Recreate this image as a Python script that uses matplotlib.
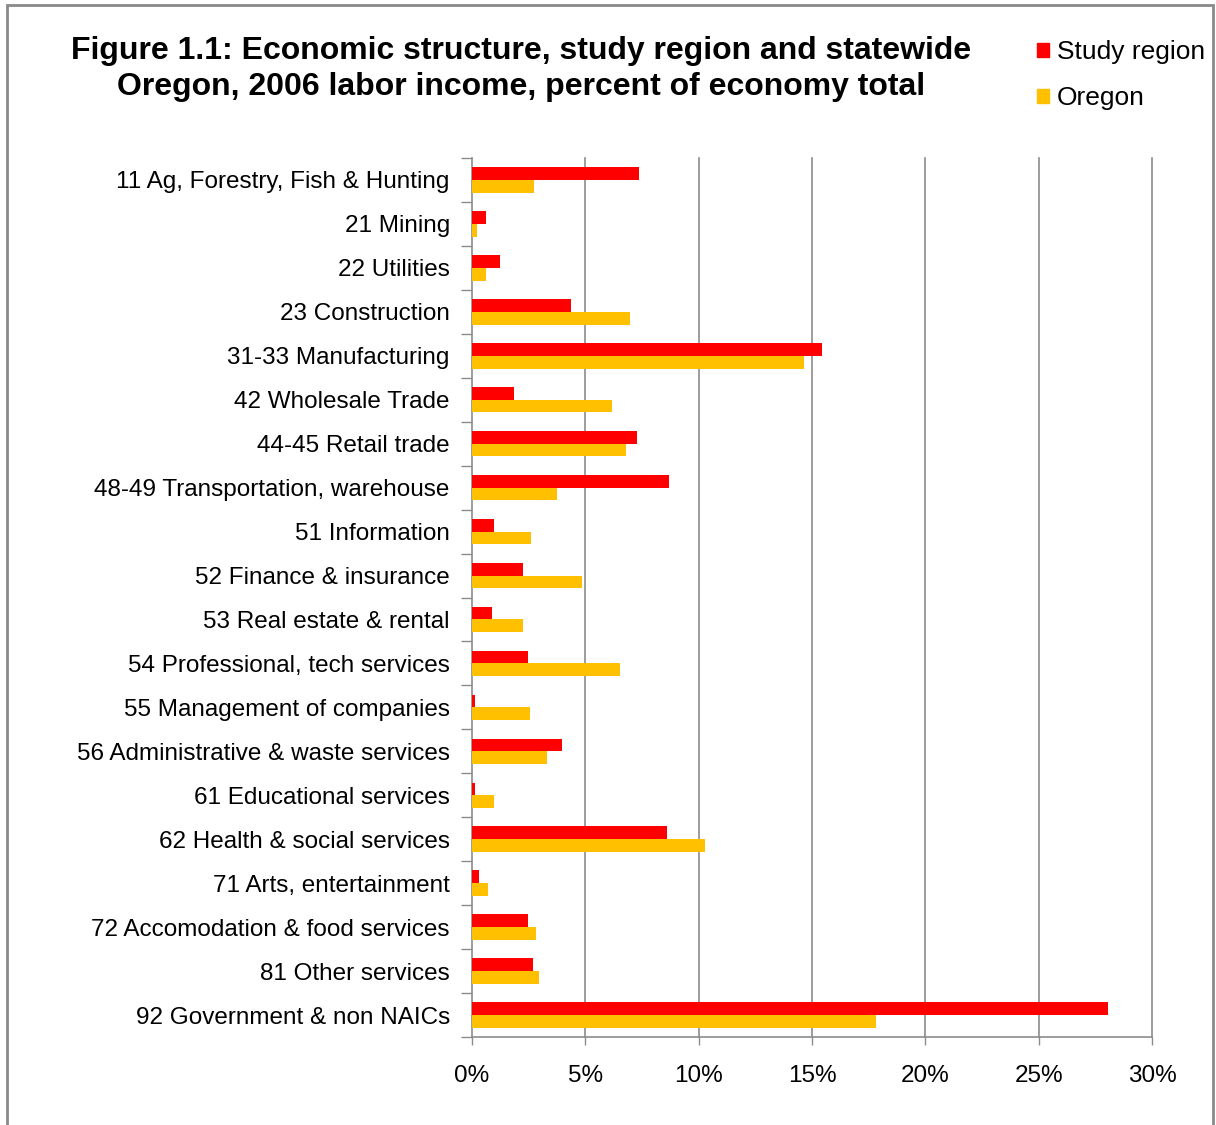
import matplotlib
matplotlib.use('Agg')
import matplotlib.pyplot as plt
import matplotlib.patches as mpatches
from matplotlib.ticker import FuncFormatter, FixedLocator
import numpy as np

plt.rcParams['font.family'] = ['Liberation Sans', 'DejaVu Sans']

# Labor income shares by industry, percent of economy total (2006)
industries = [
    '11 Ag, Forestry, Fish & Hunting',
    '21 Mining',
    '22 Utilities',
    '23 Construction',
    '31-33 Manufacturing',
    '42 Wholesale Trade',
    '44-45 Retail trade',
    '48-49 Transportation, warehouse',
    '51 Information',
    '52 Finance & insurance',
    '53 Real estate & rental',
    '54 Professional, tech services',
    '55 Management of companies',
    '56 Administrative & waste services',
    '61 Educational services',
    '62 Health & social services',
    '71 Arts, entertainment',
    '72 Accomodation & food services',
    '81 Other services',
    '92 Government & non NAICs',
]
study_region = [7.37, 0.63, 1.25, 4.36, 15.43, 1.87, 7.27, 8.69, 0.97, 2.23,
                0.87, 2.46, 0.12, 3.98, 0.13, 8.62, 0.31, 2.46, 2.68, 28.04]
oregon = [2.73, 0.23, 0.63, 6.97, 14.63, 6.18, 6.80, 3.74, 2.62, 4.84,
          2.23, 6.53, 2.57, 3.30, 0.96, 10.26, 0.70, 2.84, 2.96, 17.81]
x_ticks = [0, 5, 10, 15, 20, 25, 30]

RED = '#FF0000'
GOLD = '#FFC000'
GRID = '#8C8C8C'

fig = plt.figure(figsize=(12.16, 11.25), dpi=100)
ax = fig.add_axes([472 / 1216, 88 / 1125, 680 / 1216, 879 / 1125])

n = len(industries)
pos = np.arange(n)
h = 0.29
ax.barh(pos - h / 2, study_region, height=h, color=RED, label='Study region', zorder=3)
ax.barh(pos + h / 2, oregon, height=h, color=GOLD, label='Oregon', zorder=3)

ax.set_ylim(n - 0.5, -0.5)
ax.set_xlim(0, 30)

# x axis: percent ticks with vertical gridlines (drawn by hand so the 30% line isn't clipped)
ax.set_xticks(x_ticks)
ax.xaxis.set_major_formatter(FuncFormatter(lambda v, p: f'{v:.0f}%'))
ax.tick_params(axis='x', direction='out', length=6, width=1, color=GRID,
               labelsize=17.5, pad=14)
for v in x_ticks[1:]:
    ax.axvline(v, color=GRID, linewidth=1.2, zorder=0, clip_on=False)

# y axis: labels at category centres, tick marks at category boundaries
ax.set_yticks(pos)
ax.set_yticklabels(industries)
ax.tick_params(axis='y', which='major', length=0, labelsize=17.5, pad=16)
ax.yaxis.set_minor_locator(FixedLocator(np.arange(-0.5, n, 1.0)))
ax.tick_params(axis='y', which='minor', direction='out', length=8, width=1, color=GRID)

for side in ['top', 'right']:
    ax.spines[side].set_visible(False)
for side in ['left', 'bottom']:
    ax.spines[side].set_color(GRID)
    ax.spines[side].set_linewidth(1.2)

fig.text(521 / 1216, 1 - 69 / 1125,
         'Figure 1.1: Economic structure, study region and statewide\n'
         'Oregon, 2006 labor income, percent of economy total',
         ha='center', va='center', fontsize=23, fontweight='bold', linespacing=1.27)

handles = [mpatches.Patch(color=RED, label='Study region'),
           mpatches.Patch(color=GOLD, label='Oregon')]
fig.legend(handles=handles, loc='upper left', bbox_to_anchor=(1037 / 1216, 1 - 40 / 1125),
           frameon=False, fontsize=19, handlelength=0.45, handleheight=0.45,
           handletextpad=0.3, labelspacing=0.85, borderaxespad=0, borderpad=0)

# outer chart border
fig.patches.append(mpatches.Rectangle((7 / 1216, -0.05), 1206 / 1216, 1.05 - 5 / 1125,
                                      transform=fig.transFigure, fill=False,
                                      edgecolor='#8A8A8A', linewidth=2))

fig.savefig('out.png', dpi=100, facecolor='white')
